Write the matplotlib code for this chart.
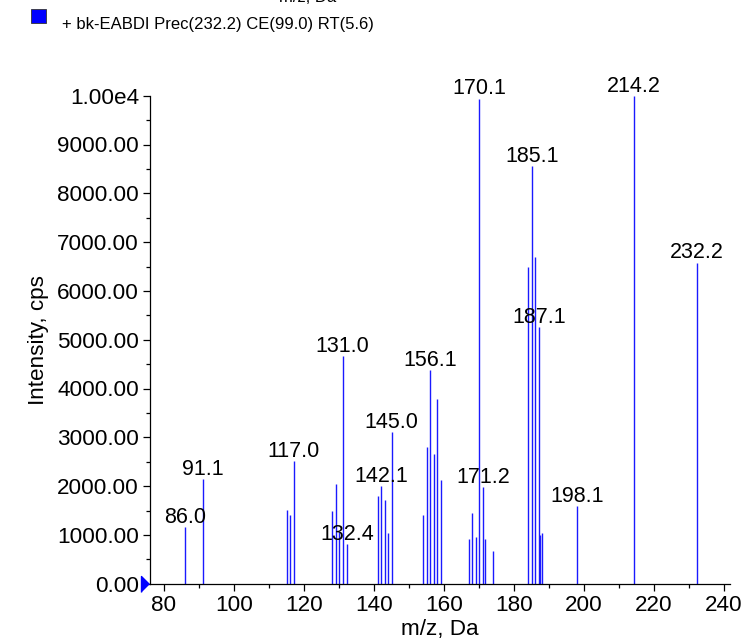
import numpy as np
import matplotlib
matplotlib.use('Agg')
import matplotlib.pyplot as plt
from matplotlib.ticker import FixedLocator, MultipleLocator, FuncFormatter

plt.rcParams['font.family'] = ['Liberation Sans', 'DejaVu Sans']

# peak list (m/z, intensity in cps)
mz = [86.0, 91.1, 115.0, 116.0, 117.0, 128.0, 129.0, 130.0, 131.0, 132.4,
      141.0, 142.1, 143.1, 144.1, 145.0, 154.0, 155.0, 156.1, 157.1, 158.0,
      159.1, 167.1, 168.0, 169.1, 170.1, 171.2, 171.8, 174.0, 184.0, 185.1,
      186.0, 187.1, 187.4, 188.0, 198.1, 214.2, 232.2]
intensity = [1160, 2140, 1505, 1405, 2510, 1495, 2050, 1050, 4660, 812,
             1787, 2005, 1712, 1030, 3110, 1405, 2800, 4370, 2650, 3777,
             2135, 908, 1446, 955, 9940, 1984, 914, 675, 6490, 8560,
             6695, 5264, 996, 1030, 1590, 10000, 6580]
labelled = [86.0, 91.1, 117.0, 131.0, 132.4, 142.1, 145.0, 156.1, 170.1,
            171.2, 185.1, 187.1, 198.1, 214.2, 232.2]

y_ticks = [0, 1000, 2000, 3000, 4000, 5000, 6000, 7000, 8000, 9000, 10000]
x_ticks = [80, 100, 120, 140, 160, 180, 200, 220, 240]

legend_text = '+ bk-EABDI Prec(232.2) CE(99.0) RT(5.6)'

fig = plt.figure(figsize=(7.44, 6.40), dpi=100)
ax = fig.add_axes([150 / 744, 1 - 583.7 / 640, 580 / 744, 488 / 640])

fs_peak = 15.5
fs_tick = 16.2
ax.vlines(mz, 0, intensity, colors='#1a1aff', linewidth=1.0)
for m, h in zip(mz, intensity):
    if m in labelled:
        ax.annotate(f'{m:.1f}', (m, h), xytext=(0, 3), textcoords='offset points',
                    ha='center', va='baseline', fontsize=fs_peak, clip_on=False)

# blue start marker at the origin
ax.plot([74.7], [0], marker=[(-0.5, -1), (-0.5, 1), (0.5, 0)], markersize=11.5,
        color='#0000ff', clip_on=False, zorder=5)

ax.set_xlim(76, 241.7)
ax.set_ylim(0, 10000)
for s in ('top', 'right'):
    ax.spines[s].set_visible(False)
ax.spines['left'].set_linewidth(0.9)
ax.spines['bottom'].set_linewidth(0.9)

ax.xaxis.set_major_locator(FixedLocator(x_ticks))
ax.xaxis.set_minor_locator(MultipleLocator(10))
ax.yaxis.set_major_locator(FixedLocator(y_ticks))
ax.yaxis.set_minor_locator(MultipleLocator(500))
ax.yaxis.set_major_formatter(FuncFormatter(lambda v, p: '1.00e4' if v >= 10000 else f'{v:.2f}'))
ax.tick_params(which='major', length=5, width=0.9, labelsize=fs_tick, pad=3)
ax.tick_params(which='minor', length=3, width=0.9)

ax.set_xlabel('m/z, Da', fontsize=fs_tick, labelpad=2)
ax.set_ylabel('Intensity, cps', fontsize=fs_tick, labelpad=6)

# header: clipped axis title from above and the legend entry
fig.text(308 / 744, 1 - 2 / 640, 'm/z, Da', fontsize=12, ha='center', va='baseline')
fig.patches.append(plt.Rectangle((31 / 744, 1 - 23 / 640), 15 / 744, 14 / 640,
                                 transform=fig.transFigure, facecolor='#0000ff',
                                 edgecolor='#333333', linewidth=0.6))
fig.text(62 / 744, 1 - 25 / 640, legend_text, fontsize=12, ha='left', va='center')

fig.savefig('out.png', dpi=100)
